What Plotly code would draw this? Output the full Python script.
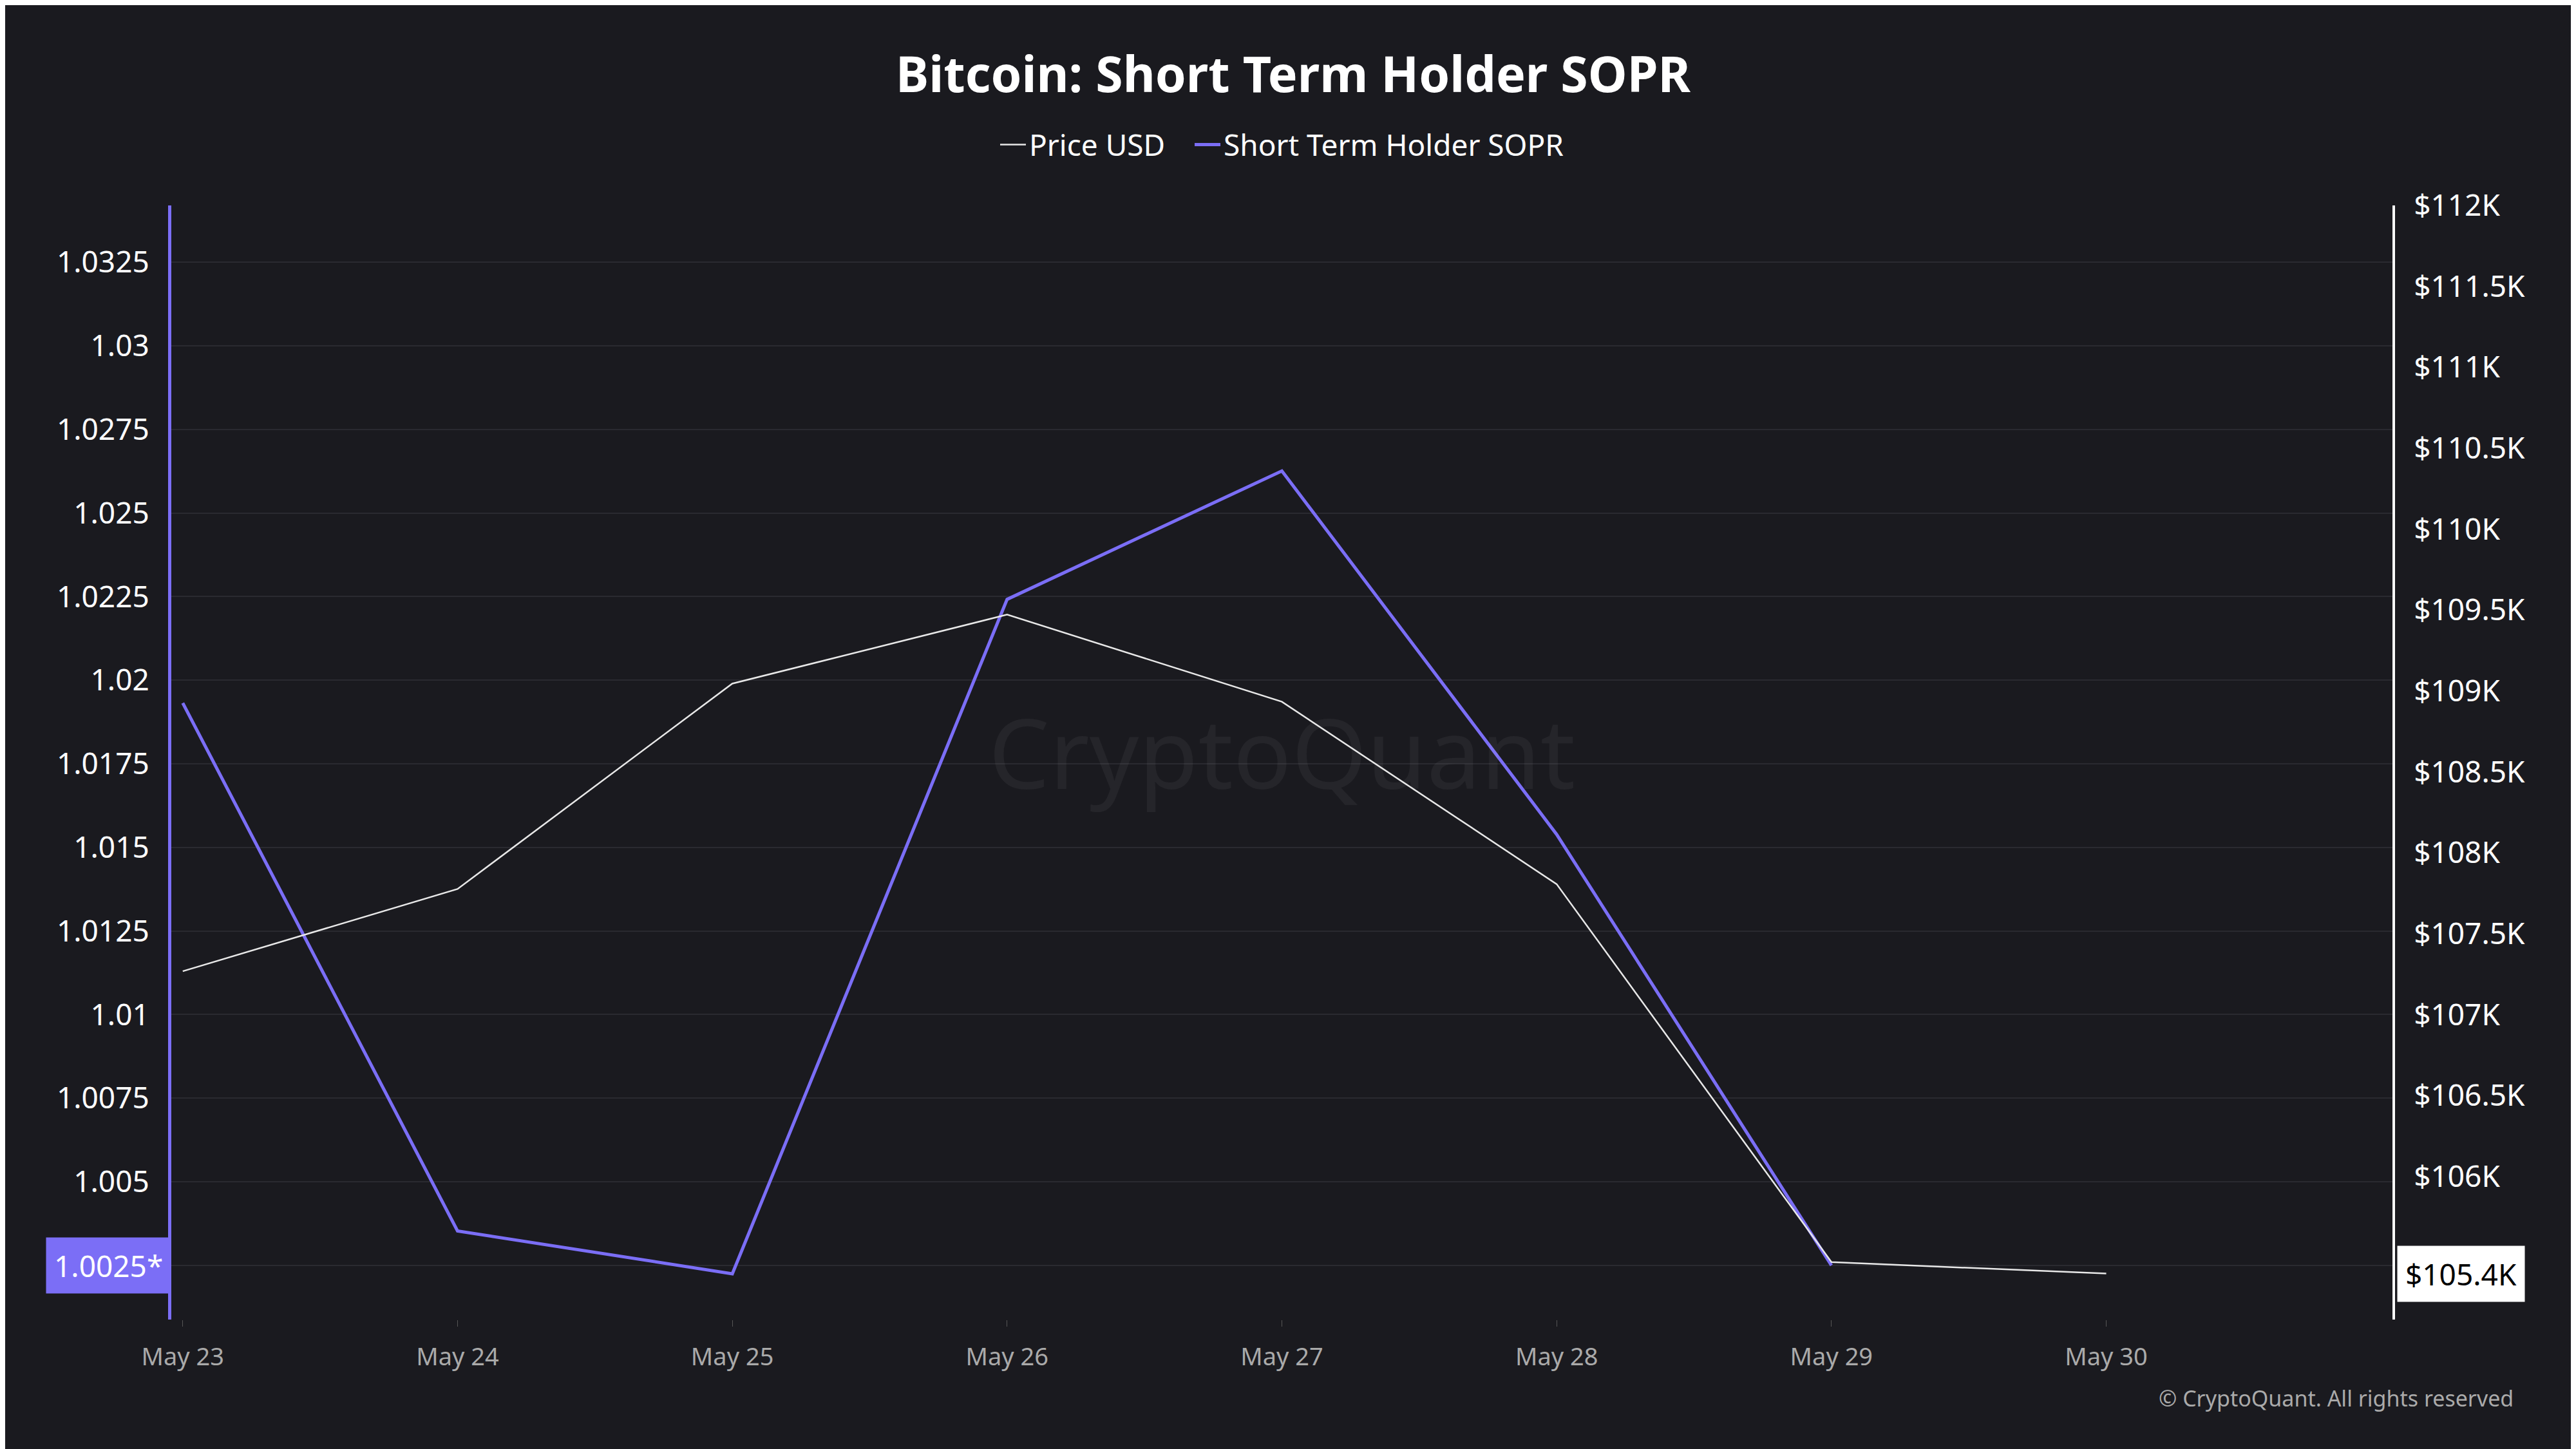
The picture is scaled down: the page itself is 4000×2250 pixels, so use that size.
import plotly.graph_objects as go

dates = ["2025-05-23","2025-05-24","2025-05-25","2025-05-26","2025-05-27","2025-05-28","2025-05-29","2025-05-30"]
sopr = [1.01932, 1.00353, 1.00225, 1.02242, 1.02626, 1.01539, 1.0025]
price = [107269, 107777, 109046, 109472, 108934, 107807, 105472, 105401]
left_ticks = [1.0025 + 0.0025*i for i in range(13)]
right_ticks = [106000 + 500*i for i in range(13)]

BG = "#1a1a1f"
PURPLE = "#7b6ef6"

fig = go.Figure()
fig.add_trace(go.Scatter(x=dates, y=price, name="Price USD   ", yaxis="y2",
                         line=dict(color="#e8e8e8", width=2.5), mode="lines"))
fig.add_trace(go.Scatter(x=dates[:len(sopr)], y=sopr, name="Short Term Holder SOPR",
                         line=dict(color=PURPLE, width=5), mode="lines"))

def fmt(v):
    s = f"{v/1000:.1f}".rstrip("0").rstrip(".")
    return f"${s}K"

left_text = [f"{v:.4f}".rstrip("0").rstrip(".") for v in left_ticks]
left_text[0] = ""

fig.update_layout(
    width=4000, height=2250, paper_bgcolor=BG, plot_bgcolor=BG,
    margin=dict(l=258, r=293, t=311, b=209),
    title=dict(text="<b>Bitcoin: Short Term Holder SOPR</b>", x=0.5, y=0.964, yanchor="top",
               font=dict(family="Noto Sans", size=77, color="white")),
    legend=dict(orientation="h", x=0.5, xanchor="center", y=0.92, yref="container", yanchor="top",
                font=dict(family="Noto Sans", size=46, color="white"), bgcolor="rgba(0,0,0,0)",
                traceorder="normal", itemwidth=40),
    font=dict(family="Noto Sans", color="white"),
    xaxis=dict(type="date", range=["2025-05-22 23:00", "2025-05-31 01:00"],
               tickvals=dates, tickformat="%b %d", showgrid=False,
               tickfont=dict(size=38, color="#aaaaaa"), ticks="outside", ticklen=10,
               tickcolor="#555", zeroline=False, showline=False, ticklabelstandoff=14),
    yaxis=dict(range=[1.00088, 1.0342], tickvals=left_ticks, ticktext=left_text,
               showgrid=True, gridcolor="#2a2a30", gridwidth=2, zeroline=False,
               showline=True, linecolor=PURPLE, linewidth=5,
               tickfont=dict(size=46, color="white"), ticklabelstandoff=20),
    yaxis2=dict(range=[105117, 112000], overlaying="y", side="right",
                tickvals=right_ticks, ticktext=[fmt(v) for v in right_ticks],
                showgrid=False, zeroline=False, showline=True, linecolor="white", linewidth=4,
                tickfont=dict(size=46, color="white"), ticklabelstandoff=20),
)

fig.add_annotation(text="1.0025*", xref="paper", yref="y", x=0, y=sopr[-1], xanchor="right",
                   showarrow=False, bgcolor=PURPLE, font=dict(size=46, color="white"),
                   borderpad=12)
fig.add_annotation(text="$105.4K", xref="paper", yref="y2", x=1.002, y=price[-1], xanchor="left",
                   showarrow=False, bgcolor="white", font=dict(size=46, color="black"),
                   borderpad=12)
fig.add_annotation(text="CryptoQuant", xref="paper", yref="paper", x=0.5, y=0.51,
                   showarrow=False, font=dict(size=150, color="rgba(255,255,255,0.05)"))
fig.add_annotation(text="© CryptoQuant. All rights reserved", xref="paper", yref="paper",
                   x=1.055, y=-0.085, xanchor="right", showarrow=False,
                   font=dict(size=34, color="#aaaaaa"))

fig.write_html("out.html")
